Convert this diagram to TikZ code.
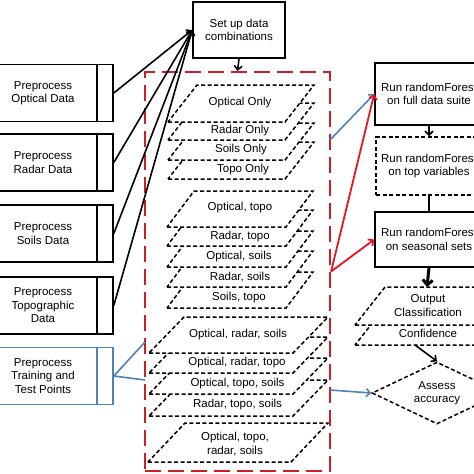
\documentclass[tikz,border=0pt]{standalone}
\usepackage{fontspec}
\setmainfont{Liberation Sans}
\usetikzlibrary{arrows.meta,shapes.geometric,calc}
\definecolor{boxred}{RGB}{205,30,40}
\definecolor{arrred}{RGB}{232,20,30}
\definecolor{lblue}{RGB}{79,129,189}
\newcommand{\platedraw}[5]{% x of bottom-left, y of bottom, height, skew, width
  \filldraw[plate] (#1,#2) -- ++(#5,0) -- ++(#4,-#3) -- ++(-#5,0) -- cycle;}
\begin{document}
\begin{tikzpicture}[x=1pt,y=-1pt,
  font=\fontsize{11.5}{13.5}\selectfont,
  box/.style={draw, line width=1.6pt, inner sep=0pt, align=center},
  dbox/.style={box, dash pattern=on 4pt off 2.5pt, line width=1.5pt},
  plate/.style={fill=white, draw=black, line width=1.5pt, dash pattern=on 4pt off 2.5pt},
  lbl/.style={align=center, inner sep=0pt},
  arr/.style={-{Straight Barb[length=4pt,width=8pt]}, line width=1.6pt},
  blueln/.style={draw=lblue, line width=1.6pt},
  redarr/.style={arr, draw=arrred, line width=1.8pt},
  bluearr/.style={arr, draw=lblue}]
\clip (0,0) rectangle (474,474);
\fill[white] (0,0) rectangle (474,474);

% ---------- preprocess boxes ----------
\foreach \n/\y in {1/93,2/162.5,3/233.5,4/305.5}{
  \node[box, minimum width=123pt, minimum height=57pt] (p\n) at (51.5,\y) {};
  \draw[line width=1.6pt] ($(p\n.north east)+(-17,0)$) -- ($(p\n.south east)+(-17,0)$);
}
\node[box, draw=lblue, minimum width=123pt, minimum height=57pt] (p5) at (51.5,376) {};
\draw[line width=1.6pt, draw=lblue] ($(p5.north east)+(-17,0)$) -- ($(p5.south east)+(-17,0)$);
\node[lbl] (tp1) at (43,93) {Preprocess\\Optical Data};
\node[lbl] (tp2) at (43,162.5) {Preprocess\\Radar Data};
\node[lbl] (tp3) at (43,233.5) {Preprocess\\Soils Data};
\node[lbl] (tp4) at (43,305.5) {Preprocess\\Topographic\\Data};
\node[lbl] (tp5) at (43,376) {Preprocess\\Training and\\Test Points};

% ---------- set up box ----------
\node[box, minimum width=92pt, minimum height=56pt] (setup) at (239,30) {Set up data\\combinations};

% ---------- combination plates ----------
\platedraw{168}{179}{37}{29}{117}
\platedraw{168}{160}{37}{29}{117}
\platedraw{168}{140}{37}{29}{117}
\platedraw{168}{122}{37}{29}{117}
\node[lbl] (c1) at (240,103) {Optical Only};
\node[lbl] (c2) at (240,131) {Radar Only};
\node[lbl] (c3) at (241,150) {Soils Only};
\node[lbl] (c4) at (243,169.5) {Topo Only};

\platedraw{167}{308}{36}{27}{119}
\platedraw{167}{287}{36}{27}{119}
\platedraw{167}{267}{36}{27}{119}
\platedraw{167}{246}{36}{27}{119}
\platedraw{167}{227}{36}{27}{119}
\node[lbl] (c5) at (240,208) {Optical, topo};
\node[lbl] (c6) at (240,236.5) {Radar, topo};
\node[lbl] (c7) at (239,257) {Optical, soils};
\node[lbl] (c8) at (240,277) {Radar, soils};
\node[lbl] (c9) at (239,297.5) {Soils, topo};

\platedraw{149}{416}{36}{35}{144}
\platedraw{149}{394}{36}{35}{144}
\platedraw{149}{373}{36}{35}{144}
\platedraw{149}{353}{36}{35}{144}
\node[lbl] (c10) at (238,335) {Optical, radar, soils};
\node[lbl] (c11) at (237,363) {Optical, radar, topo};
\node[lbl] (c12) at (237.5,383.5) {Optical, topo, soils};
\node[lbl] (c13) at (237.5,404.5) {Radar, topo, soils};

\platedraw{148}{462}{39}{37}{143}
\node[lbl] (c14) at (235,444) {Optical, topo,\\radar, soils};

% ---------- red container ----------
\node[draw=boxred, line width=2.2pt, dash pattern=on 16pt off 7pt, minimum width=185pt, minimum height=399pt, inner sep=0pt] (combos) at (237.5,271.5) {};

% ---------- right column ----------
\node[box, minimum width=108pt, minimum height=62pt] (r1) at (429,94) {Run randomForest\\on full data suite};
\node[dbox, minimum width=106pt, minimum height=58pt] (r2) at (429,166) {Run randomForest\\on top variables};
\node[box, minimum width=108pt, minimum height=55pt] (r3) at (429,239.5) {Run randomForest\\on seasonal sets};

\platedraw{355}{345}{38}{30}{200}
\platedraw{355}{325}{38}{30}{200}
\node[lbl] (outc) at (428,305.5) {Output\\Classification};
\node[lbl] (conf) at (428,333.5) {Confidence};
\coordinate (outtop) at (427,287);
\coordinate (confout) at (415,345);

\node[shape=diamond, draw, line width=1.5pt, dash pattern=on 4pt off 2.5pt, minimum width=130pt, minimum height=62pt, inner sep=0pt, aspect=2.1, align=center] (dia) at (437,393) {Assess\\accuracy};

% ---------- connectors ----------
\foreach \n in {1,2,3,4}{ \draw[arr] (p\n.east) -- (setup.west); }
\draw[arr] (setup.south) -- (combos.north);

\coordinate (bin1) at (145,342);
\coordinate (bin2) at (145,380);
\draw[blueln] (bin1) -- (p5.east) -- (bin2);
\coordinate (bout1) at (330,140);
\coordinate (bout2) at (330,390);
\draw[bluearr] (bout1) -- (r1.west);
\draw[bluearr] (bout2) -- (dia.west);

\draw[redarr] (combos.east) -- (r1.west);
\draw[redarr] (combos.east) -- (r3.west);

\draw[arr] (r1.south) -- (r2.north);
\draw[line width=1.6pt] (r2.south) -- (r3.north);
\draw[-{Straight Barb[length=5pt,width=10pt]}, line width=3pt] (r3.south) -- (outtop);
\draw[arr] (confout) -- (dia.north);
\end{tikzpicture}
\end{document}
